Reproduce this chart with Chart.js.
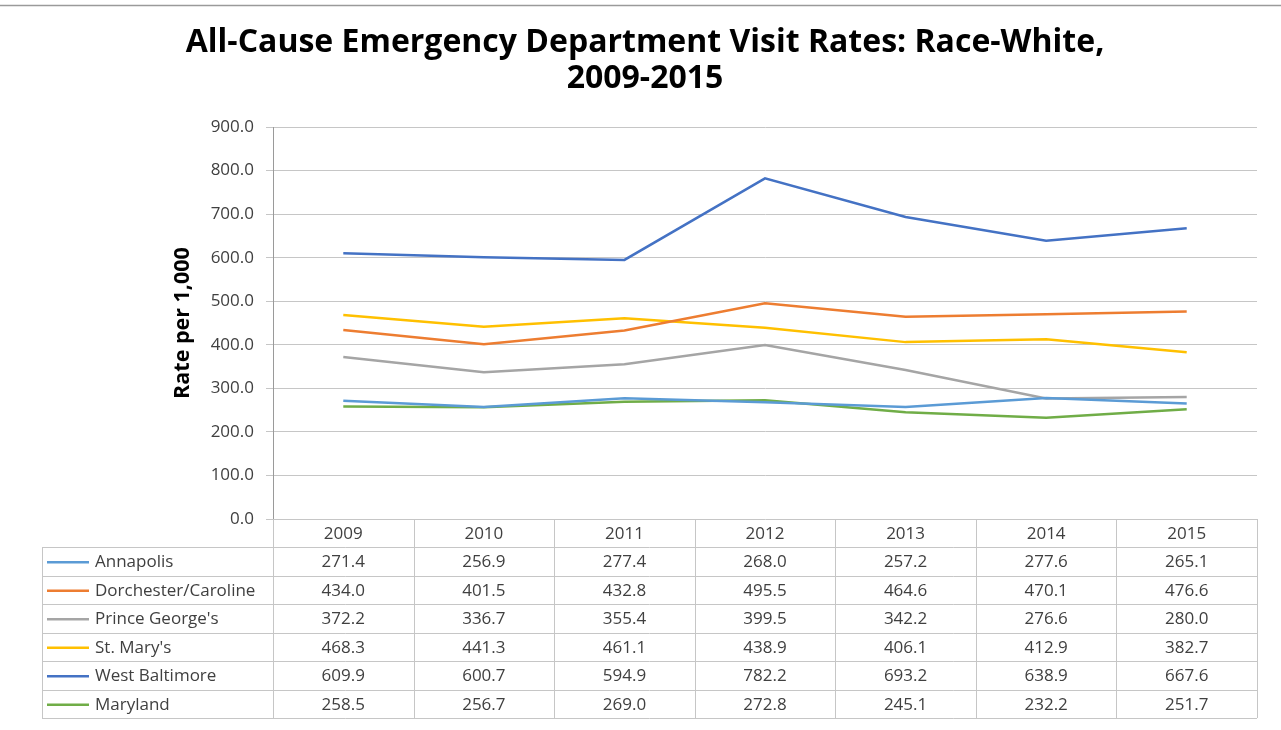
<!DOCTYPE html>
<html>
<head>
<meta charset="utf-8">
<script src="https://cdn.jsdelivr.net/npm/chart.js@4/dist/chart.umd.min.js"></script>
<style>
  html, body { margin: 0; padding: 0; background: #fff; }
  #wrap { width: 1281px; height: 730px; position: relative; }
</style>
</head>
<body>
<div id="wrap"><canvas id="rateChart" width="1281" height="730"></canvas></div>
<script>
// chart data
const years = ['2009', '2010', '2011', '2012', '2013', '2014', '2015'];
const seriesNames = ['Annapolis', 'Dorchester/Caroline', "Prince George's", "St. Mary's", 'West Baltimore', 'Maryland'];
const annapolis = [271.4, 256.9, 277.4, 268.0, 257.2, 277.6, 265.1];
const dorchesterCaroline = [434.0, 401.5, 432.8, 495.5, 464.6, 470.1, 476.6];
const princeGeorges = [372.2, 336.7, 355.4, 399.5, 342.2, 276.6, 280.0];
const stMarys = [468.3, 441.3, 461.1, 438.9, 406.1, 412.9, 382.7];
const westBaltimore = [609.9, 600.7, 594.9, 782.2, 693.2, 638.9, 667.6];
const maryland = [258.5, 256.7, 269.0, 272.8, 245.1, 232.2, 251.7];
const yTicks = [0, 100, 200, 300, 400, 500, 600, 700, 800, 900];

const titleLines = ['All-Cause Emergency Department Visit Rates: Race-White,', '2009-2015'];
const yTitle = 'Rate per 1,000';

const seriesValues = [annapolis, dorchesterCaroline, princeGeorges, stMarys, westBaltimore, maryland];
const seriesColors = ['#5B9BD5', '#ED7D31', '#A5A5A5', '#FFC000', '#4472C4', '#70AD47'];

const font = "'Open Sans', 'DejaVu Sans', sans-serif";
const gridColor = '#c6c6c6';

// draws title, axis title, the data table and the frame line
const decorPlugin = {
  id: 'decor',
  afterDraw(chart) {
    const ctx = chart.ctx;
    const xs = chart.scales.x;
    const area = chart.chartArea;
    ctx.save();

    // top frame line
    ctx.strokeStyle = '#9a9a9a';
    ctx.lineWidth = 1.5;
    ctx.beginPath();
    ctx.moveTo(0, 5.5);
    ctx.lineTo(chart.width, 5.5);
    ctx.stroke();

    // title
    ctx.fillStyle = '#000';
    ctx.textAlign = 'center';
    ctx.textBaseline = 'middle';
    ctx.font = "bold 32px " + font;
    ctx.fillText(titleLines[0], 645, 43);
    ctx.fillText(titleLines[1], 645, 79);

    // y axis title
    ctx.save();
    ctx.translate(183, (area.top + area.bottom) / 2);
    ctx.rotate(-Math.PI / 2);
    ctx.font = "bold 21.5px " + font;
    ctx.fillText(yTitle, 0, 0);
    ctx.restore();

    // data table
    const colW = (area.right - area.left) / years.length;
    const tableLeft = 42;
    const headTop = area.bottom;
    const headBottom = area.bottom + 28;
    const rowH = 28.5;
    const tableBottom = headBottom + rowH * seriesNames.length;

    ctx.strokeStyle = gridColor;
    ctx.lineWidth = 1;
    ctx.beginPath();
    for (let i = 0; i <= years.length; i++) {
      const x = Math.round(area.left + i * colW) + 0.5;
      ctx.moveTo(x, headTop);
      ctx.lineTo(x, tableBottom);
    }
    for (let r = 0; r <= seriesNames.length; r++) {
      const y = Math.round(headBottom + r * rowH) + 0.5;
      ctx.moveTo(tableLeft, y);
      ctx.lineTo(area.right, y);
    }
    ctx.moveTo(tableLeft + 0.5, headBottom);
    ctx.lineTo(tableLeft + 0.5, tableBottom);
    ctx.stroke();

    ctx.font = "17px " + font;
    ctx.fillStyle = '#404040';
    ctx.textAlign = 'center';
    years.forEach((yr, i) => {
      ctx.fillText(yr, xs.getPixelForValue(i), (headTop + headBottom) / 2 + 1);
    });

    seriesNames.forEach((name, r) => {
      const cy = headBottom + r * rowH + rowH / 2 + 1;
      ctx.strokeStyle = seriesColors[r];
      ctx.lineWidth = 2.5;
      ctx.beginPath();
      ctx.moveTo(47, cy);
      ctx.lineTo(89, cy);
      ctx.stroke();
      ctx.fillStyle = '#404040';
      ctx.textAlign = 'left';
      ctx.fillText(name, 95, cy);
      ctx.textAlign = 'center';
      seriesValues[r].forEach((v, i) => {
        ctx.fillText(v.toFixed(1), xs.getPixelForValue(i), cy);
      });
    });

    ctx.restore();
  }
};

const ctx = document.getElementById('rateChart').getContext('2d');
new Chart(ctx, {
  type: 'line',
  data: {
    labels: years,
    datasets: seriesNames.map((name, i) => ({
      label: name,
      data: seriesValues[i],
      borderColor: seriesColors[i],
      backgroundColor: seriesColors[i],
      borderWidth: 2.5,
      pointRadius: 0,
      tension: 0,
      fill: false,
    })),
  },
  options: {
    responsive: false,
    animation: false,
    layout: { padding: { top: 127, right: 24, bottom: 0, left: 0 } },
    plugins: {
      legend: { display: false },
      title: { display: false },
      tooltip: { enabled: false },
    },
    scales: {
      x: {
        offset: true,
        grid: { display: false },
        border: { display: false },
        ticks: { display: false },
        afterFit(scale) { scale.height = 211; },
      },
      y: {
        min: 0,
        max: 900,
        afterBuildTicks(scale) { scale.ticks = yTicks.map(v => ({ value: v })); },
        grid: { color: gridColor, lineWidth: 1, tickLength: 7, tickColor: gridColor },
        border: { color: '#9a9a9a' },
        ticks: {
          padding: 12,
          color: '#404040',
          font: { family: font, size: 17 },
          callback: v => v.toFixed(1),
        },
        afterFit(scale) { scale.width = 273; },
      },
    },
  },
  plugins: [decorPlugin],
});
</script>
</body>
</html>
